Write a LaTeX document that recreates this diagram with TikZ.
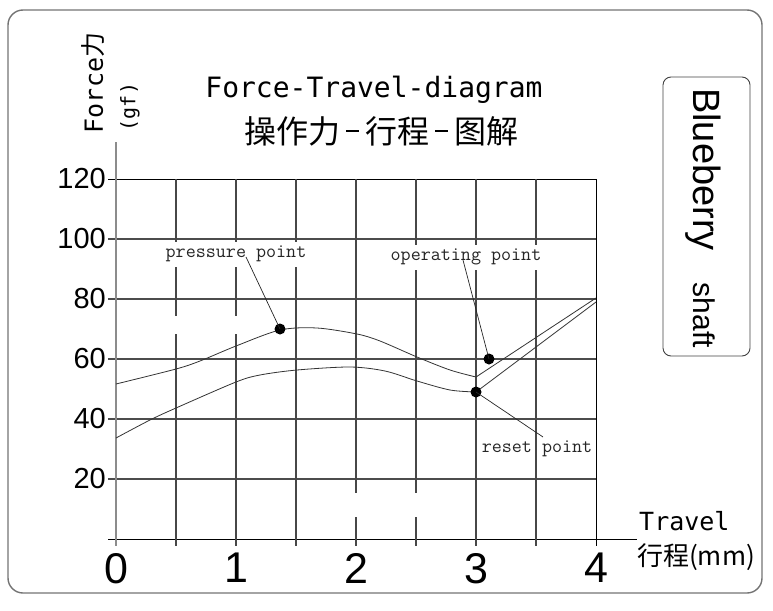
\documentclass[tikz,border=0pt]{standalone}
\usepackage{fontspec}
\setmainfont{Liberation Sans}
\newfontfamily\cjk{Noto Sans CJK SC}
\newfontfamily\monosans{DejaVu Sans Mono}
\newfontfamily\monoserif{Latin Modern Mono}
\newfontfamily\arialf{Liberation Sans}
\newcommand\fsz[1]{\fontsize{#1}{#1}\selectfont}
\newcommand\cdash{\hbox to 25pt{\hss\rule[11pt]{13pt}{1.8pt}\hss}}
\begin{document}
\begin{tikzpicture}[x=1pt,y=-1pt,
  grid/.style={draw=black!72, line width=1.1pt},
  hgrid/.style={draw=black!70, line width=1.4pt},
  curve/.style={draw=black!80, line width=0.8pt},
  leader/.style={draw=black!85, line width=0.7pt},
  dot/.style={circle, fill=black, inner sep=0pt, minimum size=11pt},
  ptlabel/.style={font=\monoserif\fsz{19.5}, text=black!85, inner sep=1pt},
  ylab/.style={font=\arialf\fsz{29}, anchor=east, inner sep=0pt},
  xlab/.style={font=\arialf\fsz{43}, anchor=north, inner sep=0pt},
]
\useasboundingbox (0,0) rectangle (773,610);
\draw[draw=black!55, line width=1.4pt, rounded corners=15pt] (8,10) rectangle (762,593);

% horizontal grid
\foreach \y in {239,299,359,419,479} \draw[hgrid] (108,\y) -- (596,\y);
\draw[black, line width=0.9pt] (108,179) -- (596,179);
\draw[black, line width=0.9pt] (108,539) -- (637,539);
% vertical grid
\foreach \x/\a/\b in {176/179/316, 176/334/546, 236/179/316, 236/334/546, 296/179/546,
  356/179/493, 356/517/546, 416/179/493, 416/517/546, 476/179/546, 536/179/546}
  \draw[grid] (\x,\a) -- (\x,\b);
\draw[black, line width=0.9pt] (596,179) -- (596,546);
\draw[draw=black!45, line width=1.8pt] (116,142) -- (116,546);

% labels of points
\node[ptlabel, fill=white, minimum height=25pt] (pp) at (236,254) {pressure point};
\node[ptlabel, fill=white, minimum height=25pt] (op) at (466,257) {operating point};
\node[ptlabel] (rp) at (537,449) {reset point};

% curves
\draw[curve] plot[smooth, tension=0.5] coordinates {(116,384) (176,369) (200,361) (236,346) (280,330) (317,328) (357,334) (380,341) (417,357) (450,370) (476,377)} -- (596,298);
\draw[curve] plot[smooth, tension=0.5] coordinates {(116,438) (150,420) (176,408) (236,382) (260,375) (297,370) (350,367) (385,371) (417,381) (450,390) (476,392)} -- (596,302);

% dots and leaders
\node[dot] (pdot) at (280,329) {};
\node[dot] (odot) at (489,359) {};
\node[dot] (rdot) at (476,392) {};
\coordinate (pl) at (246,257);
\coordinate (ol) at (463,260);
\coordinate (rl) at (543,437);
\draw[leader] (pl) -- (pdot.center);
\draw[leader] (ol) -- (odot.center);
\draw[leader] (rdot.center) -- (rl);

% tick labels
\foreach \v/\y in {120/179,100/239,80/299,60/359,40/419,20/479}
  \node[ylab] (y\v) at (106,\y) {\v};
\foreach \v/\x in {0/116,1/236,2/356,3/476,4/596}
  \node[xlab] (x\v) at (\x,553) {\v};

% titles
\node[font=\monosans\fsz{28}, anchor=base, inner sep=0pt] (t1) at (374,97) {Force-Travel-diagram};
\node[font=\cjk\fsz{32}, inner sep=0pt] (t2) at (381,131) {操作力\cdash 行程\cdash 图解};

% axis titles
\node[rotate=90, inner sep=0pt] (fl) at (93.5,83) {{\monosans\fsz{25}Force}{\cjk\fsz{25}力}};
\node[rotate=90, font=\monosans\fsz{20}, inner sep=0pt] (gf) at (130,107) {(gf)};
\node[font=\monosans\fsz{25}, anchor=base west, inner sep=0pt] (tr) at (639,530) {Travel};
\node[font=\cjk\fsz{26}, anchor=base west, inner sep=0pt] (tr2) at (637,565) {行程(mm)};

% Blueberry box
\node[draw=black!75, line width=0.9pt, rounded corners=8pt, minimum width=87pt, minimum height=279pt, inner sep=0pt] (bbox) at (706.5,216.5) {};
\node[rotate=-90, anchor=base west, inner sep=0pt] (bb) at (693,88) {{\arialf\fsz{38}Blueberry}\hspace{32pt}{\arialf\fsz{30}shaft}};
\end{tikzpicture}
\end{document}
